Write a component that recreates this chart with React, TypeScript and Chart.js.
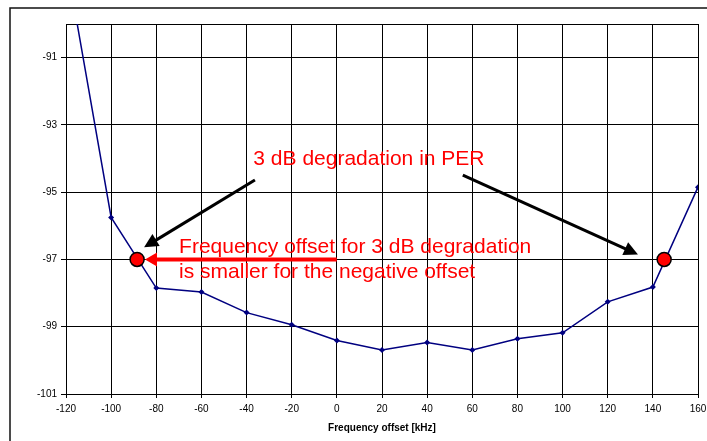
import React, { useEffect, useRef } from 'react';
import { Chart, registerables } from 'chart.js';

Chart.register(...registerables);

// ---- data ----
const freqOffsets = [-120, -100, -80, -60, -40, -20, 0, 20, 40, 60, 80, 100, 120, 140, 160];
const sensitivity = [-88.1, -95.75, -97.85, -97.97, -98.58, -98.94, -99.41, -99.69, -99.47, -99.69, -99.36, -99.18, -98.26, -97.82, -94.85];
const markerX = [-88.5, 145];
const markerY = [-97, -97];
const yTicks = [-101, -99, -97, -95, -93, -91];
const xTitle = 'Frequency offset [kHz]';
const note1 = '3 dB degradation in PER';
const note2Lines = ['Frequency offset for 3 dB degradation', 'is smaller for the negative offset'];
// annotation anchors in data coordinates [x, y]
const note1Pos = [-37.0, -94.19];
const note2Pos = [-69.9, -96.82];
// black arrows: [fromX, fromY, toX, toY]
const blackArrows = [
  [-36.3, -94.64, -85.4, -96.64],
  [55.8, -94.49, 133.4, -96.85],
];
const redArrow = [0, -97, -85, -97];

const FONT = '"Liberation Sans", Arial, sans-serif';

function drawArrow(ctx: CanvasRenderingContext2D, x1: number, y1: number, x2: number, y2: number, color: string, width: number, headLen: number, headHalf: number) {
  const dx = x2 - x1, dy = y2 - y1;
  const len = Math.hypot(dx, dy);
  const ux = dx / len, uy = dy / len;
  const bx = x2 - ux * headLen, by = y2 - uy * headLen;
  ctx.save();
  ctx.strokeStyle = color;
  ctx.fillStyle = color;
  ctx.lineWidth = width;
  ctx.lineCap = 'butt';
  ctx.beginPath();
  ctx.moveTo(x1, y1);
  ctx.lineTo(bx + ux * 1, by + uy * 1);
  ctx.stroke();
  ctx.beginPath();
  ctx.moveTo(x2, y2);
  ctx.lineTo(bx - uy * headHalf, by + ux * headHalf);
  ctx.lineTo(bx + uy * headHalf, by - ux * headHalf);
  ctx.closePath();
  ctx.fill();
  ctx.restore();
}

const annotPlugin = {
  id: 'annot',
  beforeDraw(chart: any) {
    const { ctx, width, height } = chart;
    ctx.save();
    ctx.fillStyle = '#fff';
    ctx.fillRect(0, 0, width, height);
    ctx.restore();
  },
  beforeDatasetsDraw(chart: any) {
    const { ctx, chartArea: a, scales } = chart;
    const x = scales.x, y = scales.y;
    ctx.save();
    // plot frame
    ctx.strokeStyle = '#000';
    ctx.lineWidth = 1;
    ctx.strokeRect(Math.round(a.left) + 0.5, Math.round(a.top) + 0.5, Math.round(a.right) - Math.round(a.left), Math.round(a.bottom) - Math.round(a.top));
    // outer frame (top & left edges visible)
    ctx.strokeStyle = '#111';
    ctx.lineWidth = 1.5;
    ctx.beginPath();
    ctx.moveTo(10, chart.height);
    ctx.lineTo(10, 8);
    ctx.lineTo(chart.width, 8);
    ctx.stroke();
    ctx.restore();

    // black arrows
    blackArrows.forEach(([fx, fy, tx, ty]) => {
      drawArrow(ctx, x.getPixelForValue(fx), y.getPixelForValue(fy), x.getPixelForValue(tx), y.getPixelForValue(ty), '#000', 3, 14, 7);
    });
    // red arrow
    drawArrow(ctx, x.getPixelForValue(redArrow[0]), y.getPixelForValue(redArrow[1]), x.getPixelForValue(redArrow[2]), y.getPixelForValue(redArrow[3]), '#ff0000', 4, 12, 7);

    // texts
    ctx.save();
    ctx.fillStyle = '#ff0000';
    ctx.font = `21px ${FONT}`;
    ctx.textAlign = 'left';
    ctx.textBaseline = 'alphabetic';
    ctx.fillText(note1, x.getPixelForValue(note1Pos[0]), y.getPixelForValue(note1Pos[1]));
    const n2x = x.getPixelForValue(note2Pos[0]);
    const n2y = y.getPixelForValue(note2Pos[1]);
    note2Lines.forEach((t, i) => ctx.fillText(t, n2x, n2y + i * 24.5));
    ctx.restore();
  },
};

export default function App() {
  const ref = useRef<HTMLCanvasElement>(null);
  useEffect(() => {
    document.body.style.margin = '0';
    const canvas = ref.current!;
    const chart = new Chart(canvas, {
      type: 'line',
      data: {
        datasets: [
          {
            label: 'PER',
            order: 2,
            data: freqOffsets.map((v, i) => ({ x: v, y: sensitivity[i] })),
            borderColor: '#000080',
            backgroundColor: '#000080',
            borderWidth: 1.5,
            pointStyle: 'rectRot',
            pointRadius: 3,
            pointBorderWidth: 0,
            pointBackgroundColor: '#000080',
            tension: 0,
            fill: false,
          },
          {
            label: '3 dB points',
            order: 1,
            data: markerX.map((v, i) => ({ x: v, y: markerY[i] })),
            showLine: false,
            pointRadius: 7,
            pointBackgroundColor: '#ff0000',
            pointBorderColor: '#000',
            pointBorderWidth: 1.5,
            borderColor: '#000',
            backgroundColor: '#ff0000',
          },
        ],
      } as any,
      options: {
        animation: false,
        responsive: false,
        maintainAspectRatio: false,
        layout: { padding: { top: 24, right: 0, left: 0, bottom: 0 } },
        plugins: { legend: { display: false }, tooltip: { enabled: false } },
        scales: {
          x: {
            type: 'linear',
            min: -120,
            max: 160,
            ticks: { stepSize: 20, color: '#000', font: { family: FONT, size: 10 }, padding: 5, autoSkip: false, maxRotation: 0 },
            grid: { color: '#000', lineWidth: 1, tickLength: 4, tickColor: '#000' },
            border: { color: '#000', width: 1 },
            title: { display: true, text: xTitle, color: '#000', font: { family: FONT, size: 10, weight: 'bold' }, padding: { top: 2, bottom: 7 } },
            afterFit: (s: any) => { s.height = 47; s.paddingRight = 9; s.paddingLeft = 0; },
          },
          y: {
            type: 'linear',
            min: -101,
            max: -90,
            afterBuildTicks: (s: any) => { s.ticks = yTicks.map((v) => ({ value: v })); },
            ticks: { color: '#000', font: { family: FONT, size: 10 }, padding: 4 },
            grid: { color: '#000', lineWidth: 1, tickLength: 5, tickColor: '#000' },
            border: { color: '#000', width: 1 },
            afterFit: (s: any) => { s.width = 66; },
          },
        },
      } as any,
      plugins: [annotPlugin],
    });
    return () => chart.destroy();
  }, []);
  return (
    <div style={{ width: 707, height: 441 }}>
      <canvas ref={ref} width={707} height={441} style={{ display: 'block' }} />
    </div>
  );
}
